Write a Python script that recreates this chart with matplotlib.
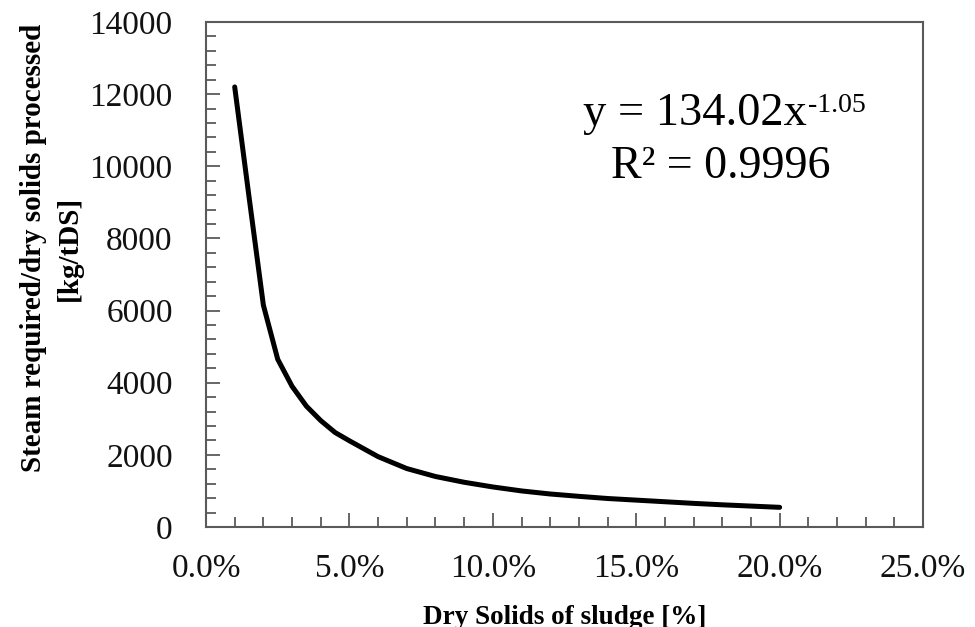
import matplotlib
matplotlib.use("Agg")
import matplotlib.pyplot as plt
from matplotlib.ticker import MultipleLocator, PercentFormatter

# dry solids content [%] and steam demand [kg/tDS]
dry_solids = [1, 1.5, 2, 2.5, 3, 3.5, 4, 4.5, 5, 6, 7, 8, 9, 10,
              11, 12, 13, 14, 15, 16, 17, 18, 19, 20]
steam = [12200, 9150, 6150, 4650, 3900, 3350, 2950, 2620, 2390, 1950,
         1620, 1400, 1240, 1110, 1000, 915, 850, 790, 745, 700,
         655, 615, 580, 545]

x_ticks = [0, 5, 10, 15, 20, 25]
y_ticks = [0, 2000, 4000, 6000, 8000, 10000, 12000, 14000]

fit_eq = "y = 134.02x"
fit_exp = "-1.05"
fit_r2 = "R² = 0.9996"

plt.rcParams["font.family"] = ["Liberation Serif", "DejaVu Serif"]

fig = plt.figure(figsize=(9.75, 6.27), dpi=100)
ax = fig.add_axes([0.2113, 0.1595, 0.7354, 0.8054])

ax.plot(dry_solids, steam, color="black", lw=3.6,
        solid_capstyle="round", solid_joinstyle="round")

ax.set_xlim(0, 25)
ax.set_ylim(0, 14000)
ax.set_xticks(x_ticks)
ax.set_yticks(y_ticks)
ax.xaxis.set_minor_locator(MultipleLocator(1))
ax.yaxis.set_minor_locator(MultipleLocator(400))
ax.xaxis.set_major_formatter(PercentFormatter(decimals=1))

spine_col = "#5a5a5a"
for s in ax.spines.values():
    s.set_color(spine_col)
    s.set_linewidth(1.5)

ax.tick_params(which="both", direction="in", color=spine_col, width=1.3,
               labelsize=24, labelcolor="#111111")
ax.tick_params(which="major", length=10)
ax.tick_params(which="minor", length=7)
ax.tick_params(axis="x", pad=19)
ax.tick_params(axis="y", pad=24)

ax.set_xlabel("Dry Solids of sludge [%]", fontsize=19.5, fontweight="bold",
              labelpad=15)
ax.set_ylabel("Steam required/dry solids processed\n[kg/tDS]", fontsize=21,
              fontweight="bold", linespacing=1.4)
ax.yaxis.set_label_coords(-0.172, 0.552)

# trendline label: equation with raised exponent, then R²
eq = ax.text(0.682, 0.796, fit_eq, transform=ax.transAxes,
             ha="center", va="baseline", fontsize=33.5)
ax.annotate(fit_exp, xy=(1.0, 0.0), xycoords=eq, xytext=(1, 23),
            textcoords="offset pixels", ha="left", va="baseline", fontsize=20)
ax.text(0.718, 0.691, fit_r2, transform=ax.transAxes,
        ha="center", va="baseline", fontsize=33)

fig.savefig("out.png", dpi=100)
